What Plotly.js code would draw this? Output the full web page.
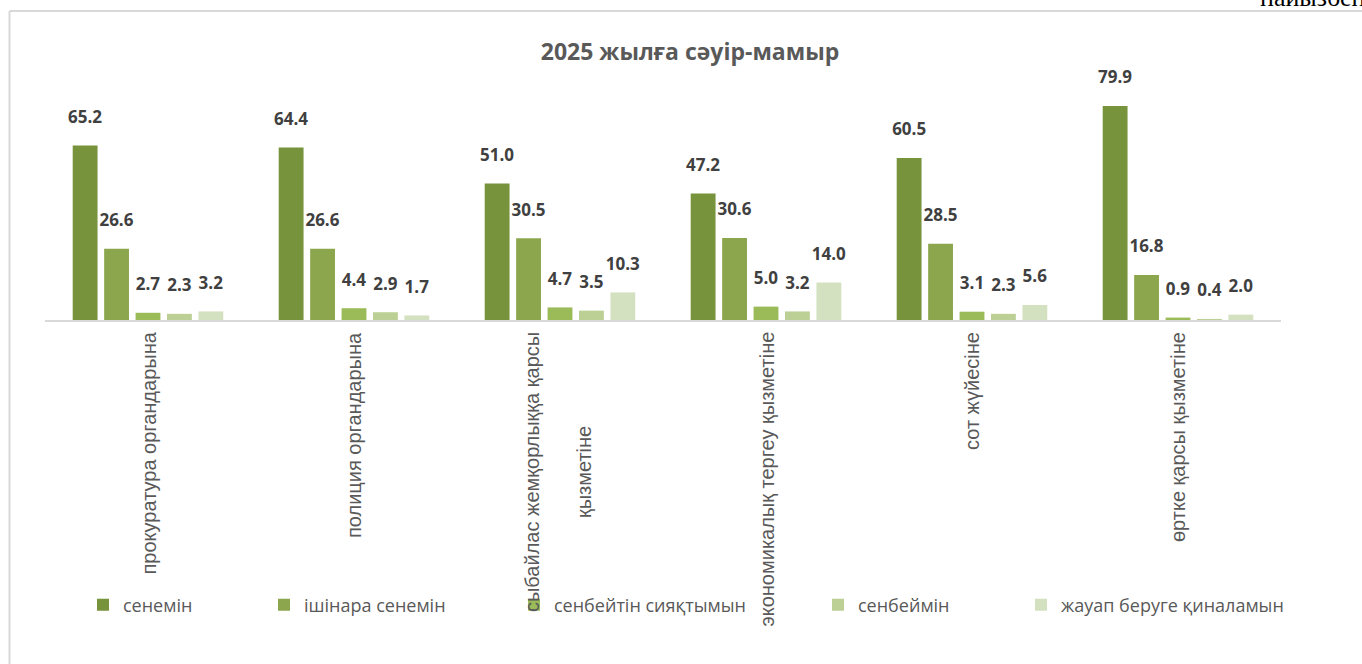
<!DOCTYPE html>
<html>
<head>
<meta charset="utf-8">
<script src="https://cdn.plot.ly/plotly-3.0.1.min.js"></script>
<style>
  html, body { margin: 0; padding: 0; background: #ffffff; overflow: hidden; }
  #chart { width: 1362px; height: 664px; }
</style>
</head>
<body>
<div id="chart"></div>
<script>
// ---- data ----
const categories = [
  "прокуратура органдарына",
  "полиция органдарына",
  "сыбайлас жемқорлыққа қарсы\nқызметіне",
  "экономикалық тергеу қызметіне",
  "сот жүйесіне",
  "өртке қарсы қызметіне"
];
const seriesNames = [
  "сенемін",
  "ішінара сенемін",
  "сенбейтін сияқтымын",
  "сенбеймін",
  "жауап беруге қиналамын"
];
const senemin        = [65.2, 64.4, 51.0, 47.2, 60.5, 79.9];
const ishinara       = [26.6, 26.6, 30.5, 30.6, 28.5, 16.8];
const senbeitinSiyaq = [2.7, 4.4, 4.7, 5.0, 3.1, 0.9];
const senbeimin      = [2.3, 2.9, 3.5, 3.2, 2.3, 0.4];
const zhauapBeruge   = [3.2, 1.7, 10.3, 14.0, 5.6, 2.0];
const chartTitle = "2025 жылға сәуір-мамыр";
const cornerText = "пайызбен";

// ---- styling ----
const colors = ["#77933C", "#8CA64E", "#9BBB59", "#BCD095", "#D4E1C0"];
const legendX = [83, 264, 514, 818, 1021];   // pixel positions of legend items
const W = 1362, H = 664;
const catKeys = categories.map((c, i) => "c" + i);

const values = [senemin, ishinara, senbeitinSiyaq, senbeimin, zhauapBeruge];

const traces = values.map((vals, i) => ({
  type: "bar",
  name: seriesNames[i],
  x: catKeys,
  y: vals,
  marker: { color: colors[i], line: { width: 0 } },
  texttemplate: "<span style='font-size:17px'>%{y:.1f}</span><br>&nbsp;",
  textposition: "outside",
  constraintext: "none",
  cliponaxis: false,
  textfont: { family: "Open Sans", size: 12, color: "#404040", weight: "bold" },
  hoverinfo: "skip",
  legend: i === 0 ? "legend" : "legend" + (i + 1)
}));

const annotations = categories.map((c, i) => ({
  x: catKeys[i], xref: "x",
  y: 0, yref: "y",
  yshift: -10,
  xshift: c.indexOf("\n") >= 0 ? -2 : 0,
  text: c.replace("\n", "<br><br>"),
  textangle: -90,
  xanchor: "center", yanchor: "top",
  align: "center",
  showarrow: false,
  font: { family: "Liberation Sans", size: 20, color: "#595959" }
}));

annotations.push({
  text: cornerText,
  xref: "paper", yref: "paper",
  x: (1258 - 45) / 1236, xanchor: "left",
  y: 1 - (14 - 79) / 241, yanchor: "bottom",
  showarrow: false,
  font: { family: "Liberation Serif", size: 26, color: "#000000" }
});

const layout = {
  width: W, height: H,
  margin: { l: 45, r: 81, t: 79, b: 344 },
  paper_bgcolor: "#ffffff",
  plot_bgcolor: "#ffffff",
  title: {
    text: chartTitle,
    xref: "container", yref: "container",
    x: 690 / W, xanchor: "center",
    y: 1 - 52 / H, yanchor: "middle",
    font: { family: "Open Sans", size: 23, color: "#595959", weight: "bold" }
  },
  barmode: "group",
  bargap: 0.237,
  bargroupgap: 0.21,
  xaxis: {
    type: "category",
    range: [-0.5, 5.5],
    showline: true, linecolor: "#D9D9D9", linewidth: 1.5,
    showticklabels: false, ticks: "",
    showgrid: false, zeroline: false, fixedrange: true
  },
  yaxis: {
    range: [0, 90],
    visible: false,
    showgrid: false, zeroline: false, fixedrange: true
  },
  showlegend: true,
  annotations: annotations,
  shapes: [
    { type: "line", xref: "paper", yref: "paper",
      x0: (9.5 - 45) / 1236, x1: (1400 - 45) / 1236,
      y0: (320 - 11) / 241, y1: (320 - 11) / 241,
      line: { color: "#D9D9D9", width: 2 } },
    { type: "line", xref: "paper", yref: "paper",
      x0: (9.5 - 45) / 1236, x1: (9.5 - 45) / 1236,
      y0: (320 - 11) / 241, y1: (320 - 700) / 241,
      line: { color: "#D9D9D9", width: 2 } }
  ]
};

seriesNames.forEach((n, i) => {
  const key = i === 0 ? "legend" : "legend" + (i + 1);
  layout[key] = {
    xref: "container", yref: "container",
    x: legendX[i] / W, xanchor: "left",
    y: 1 - 605 / H, yanchor: "middle",
    orientation: "h",
    bgcolor: "rgba(0,0,0,0)",
    borderwidth: 0,
    font: { family: "Open Sans", size: 18, color: "#595959" },
    itemclick: false, itemdoubleclick: false
  };
});

Plotly.newPlot("chart", traces, layout, { displayModeBar: false, staticPlot: true });
</script>
</body>
</html>
